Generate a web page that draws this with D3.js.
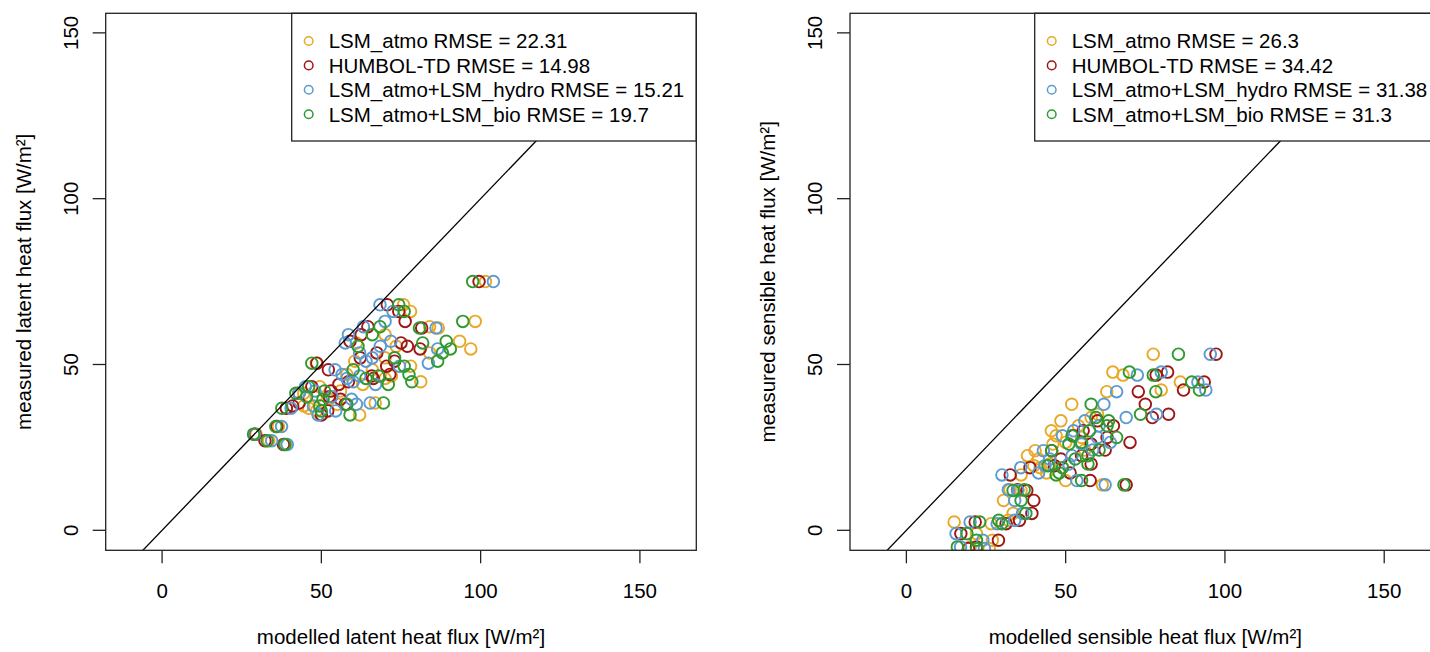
<!DOCTYPE html>
<html>
<head>
<meta charset="utf-8">
<script src="https://cdn.jsdelivr.net/npm/d3@7"></script>
<style>
  html, body { margin: 0; padding: 0; background: #fff; }
  svg text { font-family: 'Liberation Sans', Arial, Helvetica, sans-serif; fill: #000; }
</style>
</head>
<body>
<svg id="chart" width="1430" height="652"></svg>
<script>
// ── Data ──────────────────────────────────────────────────────────────────────
const seriesNames  = ['LSM_atmo', 'HUMBOL-TD', 'LSM_atmo+LSM_hydro', 'LSM_atmo+LSM_bio'];
const seriesColors = ['#e8a928', '#9e1616', '#5b9bd2', '#2f9a2f'];
const ticks = [0, 50, 100, 150];

// latent heat flux: one measured value per row, modelled value per model
const latentMeasured = [75.0, 68.0, 66.0, 63.0, 61.4, 61.0, 57.0, 56.5, 54.7, 53.5,
                        52.0, 50.4, 49.5, 48.4, 46.5, 45.8, 44.8, 43.3, 42.0, 41.3,
                        40.3, 38.4, 38.0, 36.8, 36.0, 34.8, 31.3, 29.0, 27.0, 25.9,
                        59.0, 55.5, 51.0, 47.0, 44.0, 39.5, 37.5];
const latentAtmo     = [101.5, 75.8, 78.0, 98.3, 84.0, 86.7, 93.4, 61.0, 96.9, 84.0,
                        70.0, 48.4, 78.0, 66.0, 72.0, 70.0, 81.2, 49.5, 56.0, 44.5,
                        48.4, 66.9, 55.0, 46.0, 48.5, 62.0, 36.5, 29.5, 33.5, 38.8,
                        70.0, 73.5, 60.5, 58.0, 63.0, 52.5, 44.5];
const latentHumbol   = [99.5, 70.7, 74.3, 76.3, 64.6, 81.5, 59.0, 75.0, 81.0, 67.4,
                        62.2, 48.6, 70.5, 52.2, 65.8, 66.3, 58.5, 47.0, 53.0, 43.0,
                        52.5, 43.0, 57.5, 39.0, 52.0, 50.0, 36.0, 29.2, 32.3, 38.1,
                        62.5, 77.0, 73.0, 71.5, 55.5, 56.0, 41.0];
const latentHydro    = [104.0, 68.4, 72.5, 70.0, 63.2, 86.0, 71.8, 57.5, 86.5, 62.0,
                        66.0, 83.6, 74.5, 54.3, 62.0, 58.0, 60.0, 45.0, 48.0, 43.0,
                        53.3, 65.3, 61.0, 40.5, 54.5, 49.0, 37.5, 29.0, 34.4, 39.3,
                        58.5, 68.5, 64.0, 56.5, 67.0, 59.5, 47.5];
const latentBio      = [97.5, 74.3, 76.0, 94.4, 68.4, 80.8, 89.2, 81.8, 90.5, 88.0,
                        73.0, 47.0, 76.0, 60.0, 68.0, 64.0, 78.4, 46.0, 51.0, 42.0,
                        45.4, 69.5, 58.0, 37.6, 50.0, 59.0, 35.7, 28.7, 33.0, 38.5,
                        66.0, 61.5, 86.5, 77.5, 71.0, 50.5, 49.5];
const latentRmse     = ['22.31', '14.98', '15.21', '19.7'];

// sensible heat flux
const sensibleMeasured = [53.1, 47.7, 46.8, 44.7, 42.3, 41.8, 38.0, 35.0, 34.0, 31.5,
                          28.5, 28.0, 26.5, 24.0, 24.2, 22.5, 20.0, 18.9, 17.3, 16.7,
                          15.0, 13.7, 12.2, 12.0, 5.1, 2.5, 2.0, 3.0, -1.0, -3.0, -5.0, -5.5,
                          33.0, 30.0, 26.0, 21.5, 19.5, 9.0];
const sensibleAtmo     = [77.5, 64.8, 68.0, 86.0, 80.0, 62.9, 51.9, 60.0, 58.0, 54.0,
                          47.0, 55.0, 50.0, 40.4, 56.0, 38.0, 45.0, 42.0, 44.0, 36.0,
                          50.0, 61.5, 32.5, 36.0, 33.5, 15.0, 26.6, 32.0, 22.0, 27.0, 20.0, 26.0,
                          48.5, 45.5, 46.0, 41.5, 40.0, 30.5];
const sensibleHumbol   = [97.2, 82.0, 78.4, 93.5, 87.0, 72.8, 75.0, 82.3, 77.2, 65.0,
                          52.4, 63.0, 70.2, 45.6, 62.4, 55.0, 58.0, 38.8, 51.4, 32.6,
                          57.7, 69.0, 34.9, 37.8, 39.4, 21.6, 31.3, 35.5, 17.1, 28.9, 22.0, 19.5,
                          60.0, 55.5, 58.0, 48.5, 46.5, 40.0];
const sensibleHydro    = [95.4, 80.0, 72.5, 91.5, 94.0, 66.0, 62.0, 78.5, 69.0, 60.5,
                          49.0, 60.0, 64.0, 43.0, 58.5, 52.0, 51.0, 35.9, 41.5, 30.0,
                          53.5, 62.4, 32.0, 35.0, 36.5, 20.0, 28.5, 34.0, 15.6, 24.0, 17.0, 24.5,
                          56.0, 52.5, 55.0, 45.0, 43.5, 34.0];
const sensibleBio      = [85.4, 70.0, 77.5, 89.6, 92.0, 78.3, 58.0, 73.5, 59.5, 63.0,
                          52.0, 66.0, 55.0, 45.6, 60.5, 57.0, 57.0, 49.0, 48.0, 47.0,
                          55.0, 68.3, 37.0, 33.5, 37.5, 23.0, 30.0, 29.0, 19.0, 22.0, 16.0, 22.1,
                          63.5, 57.5, 51.0, 53.0, 44.5, 36.0];
const sensibleRmse     = ['26.3', '34.42', '31.38', '31.3'];

// ── Layout ────────────────────────────────────────────────────────────────────
const svg = d3.select('#chart');
svg.append('rect').attr('width', 1430).attr('height', 652).attr('fill', '#fff');

const BOX = { left: 105.7, right: 696.3, top: 13.3, bottom: 550.3 };
const X_DOMAIN = [-17.7, 167.7];
const Y_DOMAIN = [-6.03, 155.9];
const FONT = 20.5;

// ── Panel ─────────────────────────────────────────────────────────────────────
function drawPanel(cfg) {
  const dx = cfg.offset;
  const x = d3.scaleLinear().domain(X_DOMAIN).range([BOX.left + dx, BOX.right + dx]);
  const y = d3.scaleLinear().domain(Y_DOMAIN).range([BOX.bottom, BOX.top]);
  const g = svg.append('g');

  const clipId = 'clip-' + cfg.id;
  svg.append('clipPath').attr('id', clipId).append('rect')
    .attr('x', x.range()[0]).attr('y', BOX.top)
    .attr('width', x.range()[1] - x.range()[0]).attr('height', BOX.bottom - BOX.top);

  const plot = g.append('g').attr('clip-path', `url(#${clipId})`);

  // points
  cfg.modelled.forEach((vals, s) => {
    plot.append('g').selectAll('circle')
      .data(vals.map((v, i) => [v, cfg.measured[i]]))
      .enter().append('circle')
      .attr('cx', d => x(d[0])).attr('cy', d => y(d[1]))
      .attr('r', 5.8)
      .attr('fill', 'none')
      .attr('stroke', seriesColors[s])
      .attr('stroke-width', 1.9);
  });

  // 1:1 line
  plot.append('line')
    .attr('x1', x(-20)).attr('y1', y(-20))
    .attr('x2', x(170)).attr('y2', y(170))
    .attr('stroke', '#000').attr('stroke-width', 1.3);

  // legend (topright, drawn over the line)
  const lg = g.append('g');
  const lgLeft = cfg.legendLeft + dx;
  lg.append('rect')
    .attr('x', lgLeft).attr('y', BOX.top)
    .attr('width', BOX.right + dx - lgLeft).attr('height', 141 - BOX.top)
    .attr('fill', '#fff').attr('stroke', '#222').attr('stroke-width', 1.3);
  seriesNames.forEach((name, i) => {
    const cy = 41 + i * 24.4;
    lg.append('circle')
      .attr('cx', lgLeft + 17).attr('cy', cy).attr('r', 4.3)
      .attr('fill', 'none').attr('stroke', seriesColors[i]).attr('stroke-width', 1.5);
    lg.append('text')
      .attr('x', lgLeft + 37).attr('y', cy + 7.3)
      .style('font-size', FONT + 'px')
      .text(`${name} RMSE = ${cfg.rmse[i]}`);
  });

  // box
  g.append('rect')
    .attr('x', x.range()[0]).attr('y', BOX.top)
    .attr('width', x.range()[1] - x.range()[0]).attr('height', BOX.bottom - BOX.top)
    .attr('fill', 'none').attr('stroke', '#222').attr('stroke-width', 1.3);

  // x axis
  const xa = g.append('g');
  ticks.forEach(t => {
    xa.append('line')
      .attr('x1', x(t)).attr('x2', x(t))
      .attr('y1', BOX.bottom).attr('y2', BOX.bottom + 13)
      .attr('stroke', '#222').attr('stroke-width', 1.3);
    xa.append('text')
      .attr('x', x(t)).attr('y', 598)
      .attr('text-anchor', 'middle')
      .style('font-size', FONT + 'px')
      .text(t);
  });
  xa.append('text')
    .attr('x', (x.range()[0] + x.range()[1]) / 2).attr('y', 644)
    .attr('text-anchor', 'middle')
    .style('font-size', FONT + 'px')
    .text(cfg.xTitle);

  // y axis
  const ya = g.append('g');
  ticks.forEach(t => {
    ya.append('line')
      .attr('x1', x.range()[0]).attr('x2', x.range()[0] - 13)
      .attr('y1', y(t)).attr('y2', y(t))
      .attr('stroke', '#222').attr('stroke-width', 1.3);
    ya.append('text')
      .attr('transform', `translate(${x.range()[0] - 28},${y(t)}) rotate(-90)`)
      .attr('text-anchor', 'middle')
      .style('font-size', FONT + 'px')
      .text(t);
  });
  ya.append('text')
    .attr('transform', `translate(${x.range()[0] - 75},${(BOX.top + BOX.bottom) / 2}) rotate(-90)`)
    .attr('text-anchor', 'middle')
    .style('font-size', FONT + 'px')
    .text(cfg.yTitle);
}

drawPanel({
  id: 'latent', offset: 0, legendLeft: 291.7,
  measured: latentMeasured,
  modelled: [latentAtmo, latentHumbol, latentHydro, latentBio],
  rmse: latentRmse,
  xTitle: 'modelled latent heat flux [W/m²]',
  yTitle: 'measured latent heat flux [W/m²]'
});

drawPanel({
  id: 'sensible', offset: 744.3, legendLeft: 290.4,
  measured: sensibleMeasured,
  modelled: [sensibleAtmo, sensibleHumbol, sensibleHydro, sensibleBio],
  rmse: sensibleRmse,
  xTitle: 'modelled sensible heat flux [W/m²]',
  yTitle: 'measured sensible heat flux [W/m²]'
});
</script>
</body>
</html>
